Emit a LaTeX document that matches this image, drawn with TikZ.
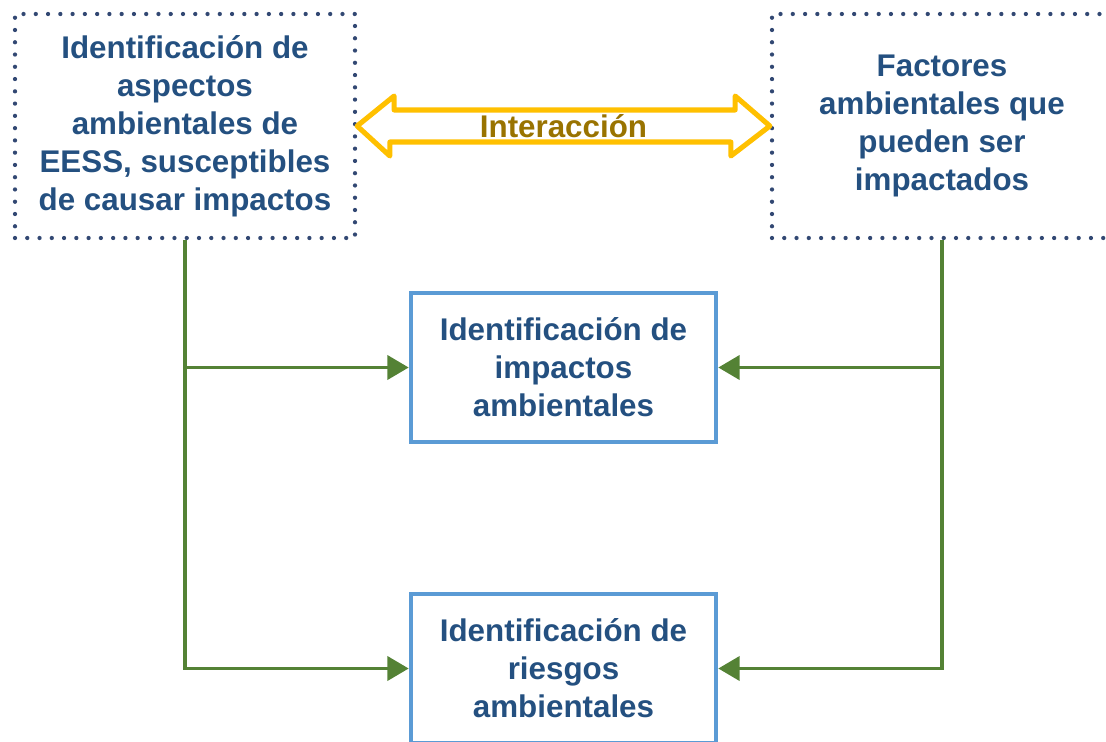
\documentclass[tikz,border=0pt]{standalone}
\usepackage{fontspec}
\setmainfont{Liberation Sans}
\usepackage{tikz}
\usetikzlibrary{arrows.meta,calc}
\definecolor{txtblue}{RGB}{36,80,128}
\definecolor{dotblue}{RGB}{50,72,115}
\definecolor{boxblue}{RGB}{91,155,213}
\definecolor{flowgreen}{RGB}{84,130,53}
\definecolor{interyellow}{RGB}{255,192,0}
\definecolor{intertext}{RGB}{153,115,0}
\tikzset{
  dotbox/.style={draw=dotblue, line width=3.2pt, line cap=round,
    dash pattern=on 0pt off 9.2pt, minimum width=255pt, minimum height=168pt,
    align=center, text=txtblue, font=\bfseries\fontsize{23.5}{28.5}\selectfont},
  idbox/.style={draw=boxblue, line width=3.4pt, minimum width=228.75pt,
    minimum height=111.75pt, align=center, text=txtblue,
    font=\bfseries\fontsize{23.5}{28.5}\selectfont},
  flow/.style={draw=flowgreen, line width=2.8pt,
    -{Triangle[length=16pt,width=18pt]}},
  interact/.style={draw=interyellow, fill=white, line width=3.8pt, line join=round},
  intertxt/.style={text=intertext, font=\bfseries\fontsize{23.5}{28.5}\selectfont}
}
\begin{document}
\begin{tikzpicture}[x=0.75pt,y=-0.75pt]
        \path[use as bounding box, clip] (0,0) rectangle (1106,742);
        % the two inputs
        \node[dotbox] (aspectos) at (185,126)
          {Identificación de\\aspectos\\ambientales de\\EESS, susceptibles\\de causar impactos};
        \node[dotbox] (factores) at (942,126)
          {Factores\\ambientales que\\pueden ser\\impactados};
        % hollow double arrow between them
        \draw[interact] (aspectos.east) -- ++(37,-30) -- ++(0,14) -- ++(341,0) -- ++(0,-14)
          -- (factores.west) -- ++(-39,30) -- ++(0,-14) -- ++(-341,0) -- ++(0,14) -- cycle;
        \node[intertxt] (interaccion) at ($(aspectos.east)!0.5!(factores.west)$) {Interacción};
        % the two results
        \node[idbox] (impactos) at (563.5,367.5) {Identificación de\\impactos\\ambientales};
        \node[idbox] (riesgos) at (563.5,668.5) {Identificación de\\riesgos\\ambientales};
        % green connectors
        \draw[flow] (aspectos.south) |- (riesgos.west);
        \draw[flow] (aspectos.south |- impactos.west) -- (impactos.west);
        \draw[flow] (factores.south) |- (riesgos.east);
        \draw[flow] (factores.south |- impactos.east) -- (impactos.east);
      \end{tikzpicture}
\end{document}
